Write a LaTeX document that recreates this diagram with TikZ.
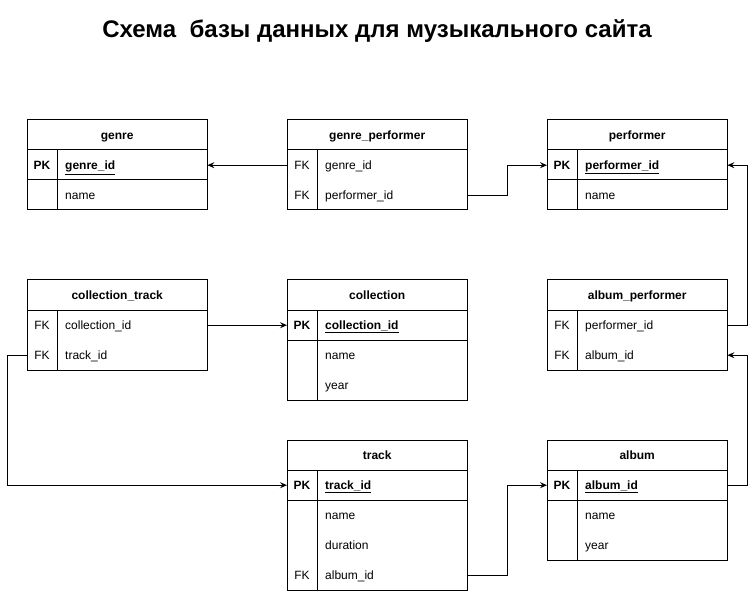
\documentclass[tikz,border=0pt]{standalone}
\usepackage{fontspec}
\setmainfont{Liberation Sans}
\usetikzlibrary{arrows.meta}
\tikzset{
  every node/.style={font=\fontsize{12}{14}\selectfont},
  rowbox/.style={minimum width=180pt, minimum height=30pt, inner sep=0pt, anchor=north west},
  keytext/.style={anchor=base, inner sep=0pt},
  fieldtext/.style={anchor=base west, inner sep=0pt},
  headtext/.style={anchor=base, inner sep=0pt, font=\fontsize{12}{14}\selectfont\bfseries},
  frame/.style={line width=1pt},
  link/.style={line width=1pt, -{Stealth[length=7pt,width=6pt,inset=2.5pt]}},
}
% #1 name, #2 x, #3 y(top), #4 key, #5 field
\newcommand\dbrow[5]{%
  \node[rowbox] (#1) at (#2,#3) {};
  \node[keytext] (#1-k) at ([xshift=15pt,yshift=-4.6pt]#1.west) {#4};
  \node[fieldtext] (#1-f) at ([xshift=38pt,yshift=-4.6pt]#1.west) {#5};
}
\newcommand\dbhead[4]{%
  \node[rowbox] (#1) at (#2,#3) {};
  \node[headtext] (#1-t) at ([yshift=-4.6pt]#1.center) {#4};
}
\newcommand\pkfield[1]{\textbf{\underline{#1}}}
\begin{document}
\begin{tikzpicture}[x=1pt,y=-1pt]
\useasboundingbox (0,0) rectangle (756,591);
\node[anchor=base, inner sep=0pt, font=\fontsize{24}{28}\selectfont\bfseries] (title) at (377,38) {Схема\ \ базы данных для музыкального сайта};

% genre
\dbhead{g}{27}{120}{genre}
\dbrow{g1}{27}{150}{\textbf{PK}}{\pkfield{genre\_id}}
\dbrow{g2}{27}{180}{}{name}
\draw[frame] (27,120) rectangle (207,210);
\draw[frame] (27,150) -- (207,150) (27,180) -- (207,180) (57,150) -- (57,210);

% genre_performer
\dbhead{gp}{287}{120}{genre\_performer}
\dbrow{gp1}{287}{150}{FK}{genre\_id}
\dbrow{gp2}{287}{180}{FK}{performer\_id}
\draw[frame] (287,120) rectangle (467,210);
\draw[frame] (287,150) -- (467,150) (317,150) -- (317,210);

% performer
\dbhead{p}{547}{120}{performer}
\dbrow{p1}{547}{150}{\textbf{PK}}{\pkfield{performer\_id}}
\dbrow{p2}{547}{180}{}{name}
\draw[frame] (547,120) rectangle (727,210);
\draw[frame] (547,150) -- (727,150) (547,180) -- (727,180) (577,150) -- (577,210);

% collection_track
\dbhead{ct}{27}{280}{collection\_track}
\dbrow{ct1}{27}{310}{FK}{collection\_id}
\dbrow{ct2}{27}{340}{FK}{track\_id}
\draw[frame] (27,280) rectangle (207,370);
\draw[frame] (27,310) -- (207,310) (57,310) -- (57,370);

% collection
\dbhead{c}{287}{280}{collection}
\dbrow{c1}{287}{310}{\textbf{PK}}{\pkfield{collection\_id}}
\dbrow{c2}{287}{340}{}{name}
\dbrow{c3}{287}{370}{}{year}
\draw[frame] (287,280) rectangle (467,400);
\draw[frame] (287,310) -- (467,310) (287,340) -- (467,340) (317,310) -- (317,400);

% album_performer
\dbhead{ap}{547}{280}{album\_performer}
\dbrow{ap1}{547}{310}{FK}{performer\_id}
\dbrow{ap2}{547}{340}{FK}{album\_id}
\draw[frame] (547,280) rectangle (727,370);
\draw[frame] (547,310) -- (727,310) (577,310) -- (577,370);

% track
\dbhead{t}{287}{440}{track}
\dbrow{t1}{287}{470}{\textbf{PK}}{\pkfield{track\_id}}
\dbrow{t2}{287}{500}{}{name}
\dbrow{t3}{287}{530}{}{duration}
\dbrow{t4}{287}{560}{FK}{album\_id}
\draw[frame] (287,440) rectangle (467,590);
\draw[frame] (287,470) -- (467,470) (287,500) -- (467,500) (317,470) -- (317,590);

% album
\dbhead{a}{547}{440}{album}
\dbrow{a1}{547}{470}{\textbf{PK}}{\pkfield{album\_id}}
\dbrow{a2}{547}{500}{}{name}
\dbrow{a3}{547}{530}{}{year}
\draw[frame] (547,440) rectangle (727,560);
\draw[frame] (547,470) -- (727,470) (547,500) -- (727,500) (577,470) -- (577,560);

% connectors
\draw[link] (gp1.west) -- (g1.east);
\draw[link] (gp2.east) -- ++(40,0) |- (p1.west);
\draw[link] (ap1.east) -- ++(20,0) |- (p1.east);
\draw[link] (a1.east) -- ++(20,0) |- (ap2.east);
\draw[link] (ct1.east) -- (c1.west);
\draw[link] (ct2.west) -- ++(-20,0) |- (t1.west);
\draw[link] (t4.east) -- ++(40,0) |- (a1.west);
\end{tikzpicture}
\end{document}
